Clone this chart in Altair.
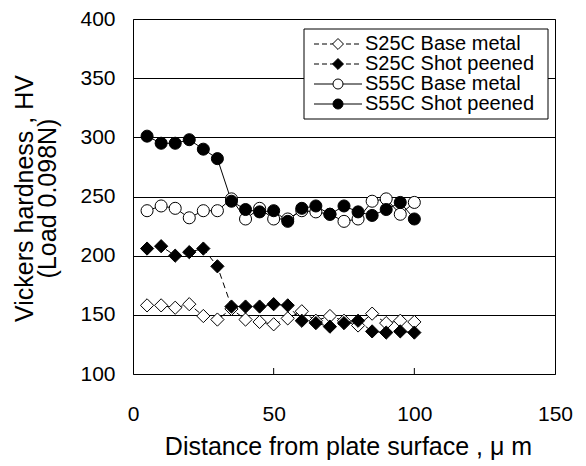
import altair as alt
import pandas as pd

# ---- data ----
distance = [5, 10, 15, 20, 25, 30, 35, 40, 45, 50, 55, 60, 65, 70, 75, 80, 85, 90, 95, 100]
s25c_base = [158, 158, 156, 159, 149, 146, 155, 146, 144, 142, 147, 153, 145, 149, 145, 141, 151, 143, 145, 144]
s25c_shot = [206, 208, 200, 203, 206, 191, 157, 157, 157, 159, 158, 145, 143, 140, 143, 145, 136, 135, 136, 135]
s55c_base = [238, 242, 240, 232, 238, 238, 248, 231, 240, 231, 231, 238, 237, 235, 229, 231, 246, 248, 235, 245]
s55c_shot = [301, 295, 295, 298, 290, 282, 246, 239, 237, 238, 229, 240, 242, 235, 242, 237, 234, 239, 245, 231]

series_names = ["S25C Base metal", "S25C Shot peened", "S55C Base metal", "S55C Shot peened"]
series_values = [s25c_base, s25c_shot, s55c_base, s55c_shot]
series_shapes = ["diamond", "diamond", "circle", "circle"]
series_fills = ["white", "black", "white", "black"]
series_dashed = [True, True, False, False]

x_ticks = [0, 50, 100, 150]
y_ticks = [100, 150, 200, 250, 300, 350, 400]
inner_x_ticks = [50, 100]

x_title = "Distance from plate surface , \u03bc m"
y_title = ["Vickers hardness , HV", "(Load 0.098N)"]

FONT = "Liberation Sans"
W, H = 422, 355
TOP = 11
LEFT = 125

rows = []
for name, vals in zip(series_names, series_values):
    for d, v in zip(distance, vals):
        rows.append({"d": d, "hv": v, "series": name})
df = pd.DataFrame(rows)

xs = alt.Scale(domain=[0, 150], nice=False, zero=False)
ys = alt.Scale(domain=[100, 400], nice=False, zero=False)

x_axis = alt.Axis(values=x_ticks, title=x_title, grid=False, ticks=False,
                  labelPadding=29, labelFontSize=21, titleFontSize=25,
                  titleX=215, titleY=72, titleBaseline="middle", domain=False,
                  labelFlush=False)
y_axis = alt.Axis(values=y_ticks, title=y_title, grid=True, gridColor="black",
                  gridWidth=1, gridOpacity=1, ticks=False, labelPadding=18,
                  labelFontSize=21, titleFontSize=25, titleX=-121, titleY=179,
                  titleBaseline="top", titleAlign="center", titleLineHeight=23,
                  domain=False)

def X():
    return alt.X("d:Q", scale=xs, axis=x_axis)

def Y():
    return alt.Y("hv:Q", scale=ys, axis=y_axis)

layers = []
base = alt.Chart(df)
for i, name in enumerate(series_names):
    sub = base.transform_filter(alt.datum.series == name)
    line_kwargs = dict(color="black", strokeWidth=1)
    if series_dashed[i]:
        line_kwargs["strokeDash"] = [6, 4]
    layers.append(sub.mark_line(**line_kwargs).encode(x=X(), y=Y()))
for i, name in enumerate(series_names):
    sub = base.transform_filter(alt.datum.series == name)
    size = 175 if series_shapes[i] == "diamond" else 145
    layers.append(
        sub.mark_point(shape=series_shapes[i], filled=False, fill=series_fills[i],
                       fillOpacity=1, stroke="black", strokeWidth=1, size=size, opacity=1)
        .encode(x=X(), y=Y())
    )

# inward x ticks
tick_df = pd.DataFrame({"d": inner_x_ticks})
layers.append(
    alt.Chart(tick_df).mark_rule(color="black", strokeWidth=1)
    .encode(x=X(), y=alt.value(H), y2=alt.value(H - 6))
)

# legend (manual)
LX0, LX1, LY0, LY1 = 171, 415, 10, 100
one = pd.DataFrame({"k": [0]})
layers.append(
    alt.Chart(one).mark_rect(fill="white", stroke="black", strokeWidth=1)
    .encode(x=alt.value(LX0), x2=alt.value(LX1), y=alt.value(LY0), y2=alt.value(LY1))
)
row_y = [25, 45, 65, 85]
for i, name in enumerate(series_names):
    ry = row_y[i]
    rule_kwargs = dict(color="black", strokeWidth=1)
    if series_dashed[i]:
        rule_kwargs["strokeDash"] = [5, 3]
    layers.append(
        alt.Chart(one).mark_rule(**rule_kwargs)
        .encode(x=alt.value(181), x2=alt.value(229), y=alt.value(ry))
    )
    size = 120 if series_shapes[i] == "diamond" else 100
    layers.append(
        alt.Chart(one).mark_point(shape=series_shapes[i], filled=False, fill=series_fills[i],
                                  fillOpacity=1, stroke="black", strokeWidth=1, size=size, opacity=1)
        .encode(x=alt.value(205), y=alt.value(ry))
    )
    layers.append(
        alt.Chart(pd.DataFrame({"label": [name]})).mark_text(
            align="left", baseline="middle", font=FONT, fontSize=20, color="black")
        .encode(x=alt.value(232), y=alt.value(ry), text="label:N")
    )

chart = (
    alt.layer(*layers)
    .properties(width=W, height=H,
                autosize=alt.AutoSizeParams(type="none"),
                padding={"left": LEFT, "top": TOP, "right": 570 - LEFT - W,
                         "bottom": 458 - TOP - H},
                background="white")
    .configure_view(stroke="black", strokeWidth=1)
    .configure_axis(labelFont=FONT, titleFont=FONT, labelColor="black",
                    titleColor="black", titleFontWeight="normal")
)

chart.save("out.html", embed_options={"renderer": "svg", "actions": False})
